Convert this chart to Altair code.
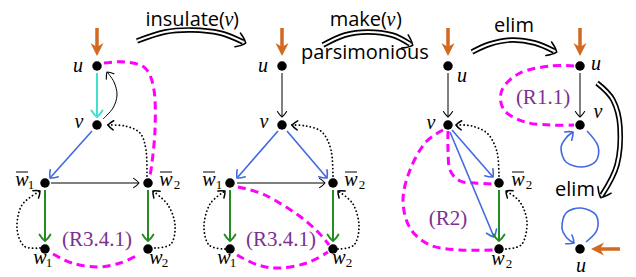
import math
import altair as alt
import pandas as pd

# ---------------- data (pixel coordinates, y grows downward) ----------------
node_x = [97, 97, 45, 148, 45, 148, 282, 282, 230, 333, 230, 333, 448, 448, 499, 499, 580, 580, 580]
node_y = [66, 125, 183, 183, 249, 249, 66, 125, 183, 183, 249, 249, 66, 125, 183, 249, 66, 125, 249]

thin_paths = {
    "p1_vu": [(103, 119), (113, 108), (117, 95), (114, 82), (107, 72)],
    "p1_wb": [(51, 183), (139, 183)],
    "p2_uv": [(282, 73), (282, 117)],
    "p2_wb": [(237, 183), (325, 183)],
    "p3_uv": [(448, 73), (448, 117)],
    "p4_uv": [(580, 73), (580, 117)],
}
cyan_paths = {"p1_uv": [(97, 73), (97, 117)]}
blue_paths = {
    "p1_vw1": [(92, 131), (50, 178)],
    "p2_vw1": [(278, 131), (237, 178)],
    "p2_vw2": [(287, 131), (327, 178)],
    "p3_vw2": [(452, 130), (493, 177)],
    "p3_vw2b": [(450, 132), (494, 237)],
    "p4_vloop": [(587, 131), (598, 146), (596, 161), (582, 167), (566, 162), (561, 148), (566, 138), (573, 132)],
    "p4_uloop": [(586, 242), (597, 230), (596, 215), (581, 208), (566, 213), (562, 228), (567, 238), (574, 243)],
}
green_paths = {
    "p1_1": [(45, 190), (45, 241)],
    "p1_2": [(148, 190), (148, 241)],
    "p2_1": [(230, 190), (230, 241)],
    "p2_2": [(333, 190), (333, 241)],
    "p3_2": [(499, 190), (499, 241)],
}
dotted_paths = {
    "p1_w2v": [(147, 176), (146, 150), (140, 133), (125, 126), (108, 125)],
    "p1_w1": [(40, 248), (24, 246), (17, 228), (22, 205), (40, 191)],
    "p1_w2": [(155, 248), (171, 244), (175, 225), (168, 205), (153, 191)],
    "p2_w2v": [(333, 176), (331, 150), (322, 132), (306, 126), (292, 125)],
    "p2_w1": [(225, 249), (209, 245), (204, 226), (210, 204), (225, 191)],
    "p2_w2": [(338, 249), (354, 245), (359, 226), (353, 204), (338, 191)],
    "p3_w2v": [(499, 176), (497, 152), (488, 134), (472, 126), (456, 125)],
    "p3_w2": [(506, 249), (522, 244), (527, 222), (520, 202), (506, 191)],
}
magenta_paths = {
    "p1_a": [(104, 63), (125, 62), (145, 68), (154, 90), (155, 130), (151, 170), (148, 178)],
    "p1_b": [(53, 254), (72, 263), (97, 267), (120, 263), (138, 255)],
    "p2_a": [(238, 187), (265, 195), (298, 215), (318, 232), (329, 245)],
    "p2_b": [(237, 255), (258, 265), (280, 268), (307, 263), (328, 252)],
    "p3_a": [(448, 131), (448, 150), (450, 170), (460, 181), (475, 183), (492, 184)],
    "p3_b": [(443, 130), (425, 143), (410, 170), (403, 200), (410, 228), (430, 245), (460, 250), (493, 250)],
    "p4_a": [(574, 66), (550, 66), (520, 73), (502, 90), (504, 110), (525, 122), (550, 125), (574, 125)],
}
double_paths = {
    "insulate": [(137, 41), (165, 32), (192, 30), (220, 33), (243, 42)],
    "make": [(323, 45), (345, 35), (368, 32), (392, 35), (410, 44)],
    "elim1": [(472, 52), (490, 44), (512, 40), (535, 43), (554, 51)],
    "elim2": [(597, 83), (613, 100), (620, 127), (617, 165), (602, 195)],
}
orange_tail_x = [97, 282, 448, 580, 620]
orange_tail_y = [28, 28, 28, 28, 249]
orange_tip_x = [97, 282, 448, 580, 591]
orange_tip_y = [56, 56, 56, 56, 249]

# labels
title_right = [("insulate(", 225, 26), ("make(", 387, 26)]
title_left = [(")", 233, 26), (")", 396, 26)]
title_center = [("parsimonious", 365, 59), ("elim", 514, 32), ("elim", 575, 196)]
italic_labels = [
    ("v", 229, 26), ("v", 391, 26),
    ("u", 78, 72), ("v", 79, 128), ("w", 22, 186), ("w", 166, 186), ("w", 40, 264), ("w", 156, 264),
    ("u", 263, 72), ("v", 264, 128), ("w", 209, 186), ("w", 351, 186), ("w", 224, 264), ("w", 339, 264),
    ("u", 462, 82), ("v", 431, 129), ("w", 518, 186), ("w", 498, 265),
    ("u", 596, 70), ("v", 598, 118), ("u", 581, 272),
]
sub_labels = [
    ("1", 31, 189), ("2", 177, 189), ("1", 49, 267), ("2", 165, 267),
    ("1", 219, 189), ("2", 362, 189), ("1", 233, 267), ("2", 349, 267),
    ("2", 529, 189), ("2", 509, 268),
]
overline_x1 = [16, 160, 203, 345, 512]
overline_x2 = [28, 172, 215, 357, 524]
overline_y = [172, 172, 172, 172, 172]
rule_labels = [("(R3.4.1)", 97, 246), ("(R3.4.1)", 281, 246), ("(R2)", 448, 225), ("(R1.1)", 543, 104)]

# ---------------- helpers ----------------
VEE = "M -1.3 -1.1 Q -0.4 -0.55 0 0 Q -0.4 0.55 -1.3 1.1"
STEALTH = "M 0 0 L -2 -1 L -1.4 0 L -2 1 Z"

XS = alt.Scale(domain=[8, 628], nice=False, zero=False)
YS = alt.Scale(domain=[8, 277], nice=False, zero=False, reverse=True)
X = alt.X("x:Q", scale=XS, axis=None)
Y = alt.Y("y:Q", scale=YS, axis=None)


def lines_df(paths):
    rows = []
    for pid, pts in paths.items():
        for i, (x, y) in enumerate(pts):
            rows.append({"id": pid, "i": i, "x": x, "y": y})
    return pd.DataFrame(rows)


def heads_df(paths, back=0.0):
    rows = []
    for pid, pts in paths.items():
        (x0, y0), (x1, y1) = pts[-2], pts[-1]
        a = math.atan2(y1 - y0, x1 - x0)
        rows.append({"x": x1 + back * math.cos(a), "y": y1 + back * math.sin(a),
                     "angle": math.degrees(a) % 360})
    return pd.DataFrame(rows)


def line_layer(paths, color, width, dash=None, cap="butt", interp="cardinal"):
    kw = dict(color=color, strokeWidth=width, interpolate=interp, strokeCap=cap)
    if dash:
        kw["strokeDash"] = dash
    return alt.Chart(lines_df(paths)).mark_line(**kw).encode(
        x=X, y=Y, detail="id:N", order="i:Q")


def head_layer(paths, color, size, width, back=0.0):
    return alt.Chart(heads_df(paths, back)).mark_point(
        shape=VEE, filled=False, size=size, strokeWidth=width, color=color,
        opacity=1, strokeCap="round", strokeJoin="round").encode(
        x=X, y=Y, angle=alt.Angle("angle:Q", scale=None))


def text_layer(items, font, size, color="black", align="center", style="normal"):
    df = pd.DataFrame(items, columns=["t", "x", "y"])
    return alt.Chart(df).mark_text(
        font=font, fontSize=size, color=color, align=align, baseline="alphabetic",
        fontStyle=style).encode(x=X, y=Y, text="t:N")


BLUE = "#4169E1"
CYAN = "#40E0D0"
GREEN = "#228B22"
ORANGE = "#D2691E"
MAGENTA = "#FF00FF"
PURPLE = "#7B3090"

layers = []
# double (implication) arrows
layers.append(line_layer(double_paths, "black", 5.5))
layers.append(line_layer(double_paths, "white", 2.2))
layers.append(head_layer(double_paths, "black", 180, 1.5, back=3))

# magenta dashed
layers.append(line_layer(magenta_paths, MAGENTA, 3, dash=[8, 5]))

# dotted
layers.append(line_layer(dotted_paths, "black", 1.8, dash=[0.1, 3.6], cap="round"))
layers.append(head_layer(dotted_paths, "black", 70, 1.5))

# plain edges
layers.append(line_layer(thin_paths, "black", 1))
layers.append(head_layer(thin_paths, "black", 70, 1.1))
layers.append(line_layer(cyan_paths, CYAN, 2))
layers.append(head_layer(cyan_paths, CYAN, 100, 2))
layers.append(line_layer(blue_paths, BLUE, 1.6))
layers.append(head_layer(blue_paths, BLUE, 95, 1.6))
layers.append(line_layer(green_paths, GREEN, 2))
layers.append(head_layer(green_paths, GREEN, 95, 2))

# orange input arrows
o_rows = []
for tx, ty, hx, hy in zip(orange_tail_x, orange_tail_y, orange_tip_x, orange_tip_y):
    a = math.atan2(hy - ty, hx - tx)
    o_rows.append({"x": tx, "y": ty, "x2": hx - 9 * math.cos(a), "y2": hy - 9 * math.sin(a),
                   "hx": hx, "hy": hy, "angle": math.degrees(a) % 360})
odf = pd.DataFrame(o_rows)
layers.append(alt.Chart(odf).mark_rule(color=ORANGE, strokeWidth=3.5).encode(
    x=X, y=Y, x2="x2:Q", y2="y2:Q"))
layers.append(alt.Chart(odf).mark_point(shape=STEALTH, filled=True, size=169, color=ORANGE, opacity=1).encode(
    x=alt.X("hx:Q", scale=XS, axis=None),
    y=alt.Y("hy:Q", scale=YS, axis=None),
    angle=alt.Angle("angle:Q", scale=None)))

# nodes
ndf = pd.DataFrame({"x": node_x, "y": node_y})
layers.append(alt.Chart(ndf).mark_circle(size=90, color="black", opacity=1).encode(x=X, y=Y))

# overlines
ovdf = pd.DataFrame({"x": overline_x1, "x2": overline_x2, "y": overline_y})
layers.append(alt.Chart(ovdf).mark_rule(color="black", strokeWidth=1).encode(x=X, x2="x2:Q", y=Y))

# texts
SANS = "Open Sans"
SERIF = "Liberation Serif"
layers.append(text_layer(title_right, SANS, 20, align="right"))
layers.append(text_layer(title_left, SANS, 20, align="left"))
layers.append(text_layer(title_center, SANS, 20, align="center"))
layers.append(text_layer(italic_labels, SERIF, 20, style="italic"))
layers.append(text_layer(sub_labels, SERIF, 13))
layers.append(text_layer(rule_labels, SERIF, 21, color=PURPLE))

chart = alt.layer(*layers).properties(
    width=620, height=269, padding=0, autosize="none"
).configure_view(stroke=None)

chart.save("out.html", embed_options={"renderer": "svg", "actions": False})
